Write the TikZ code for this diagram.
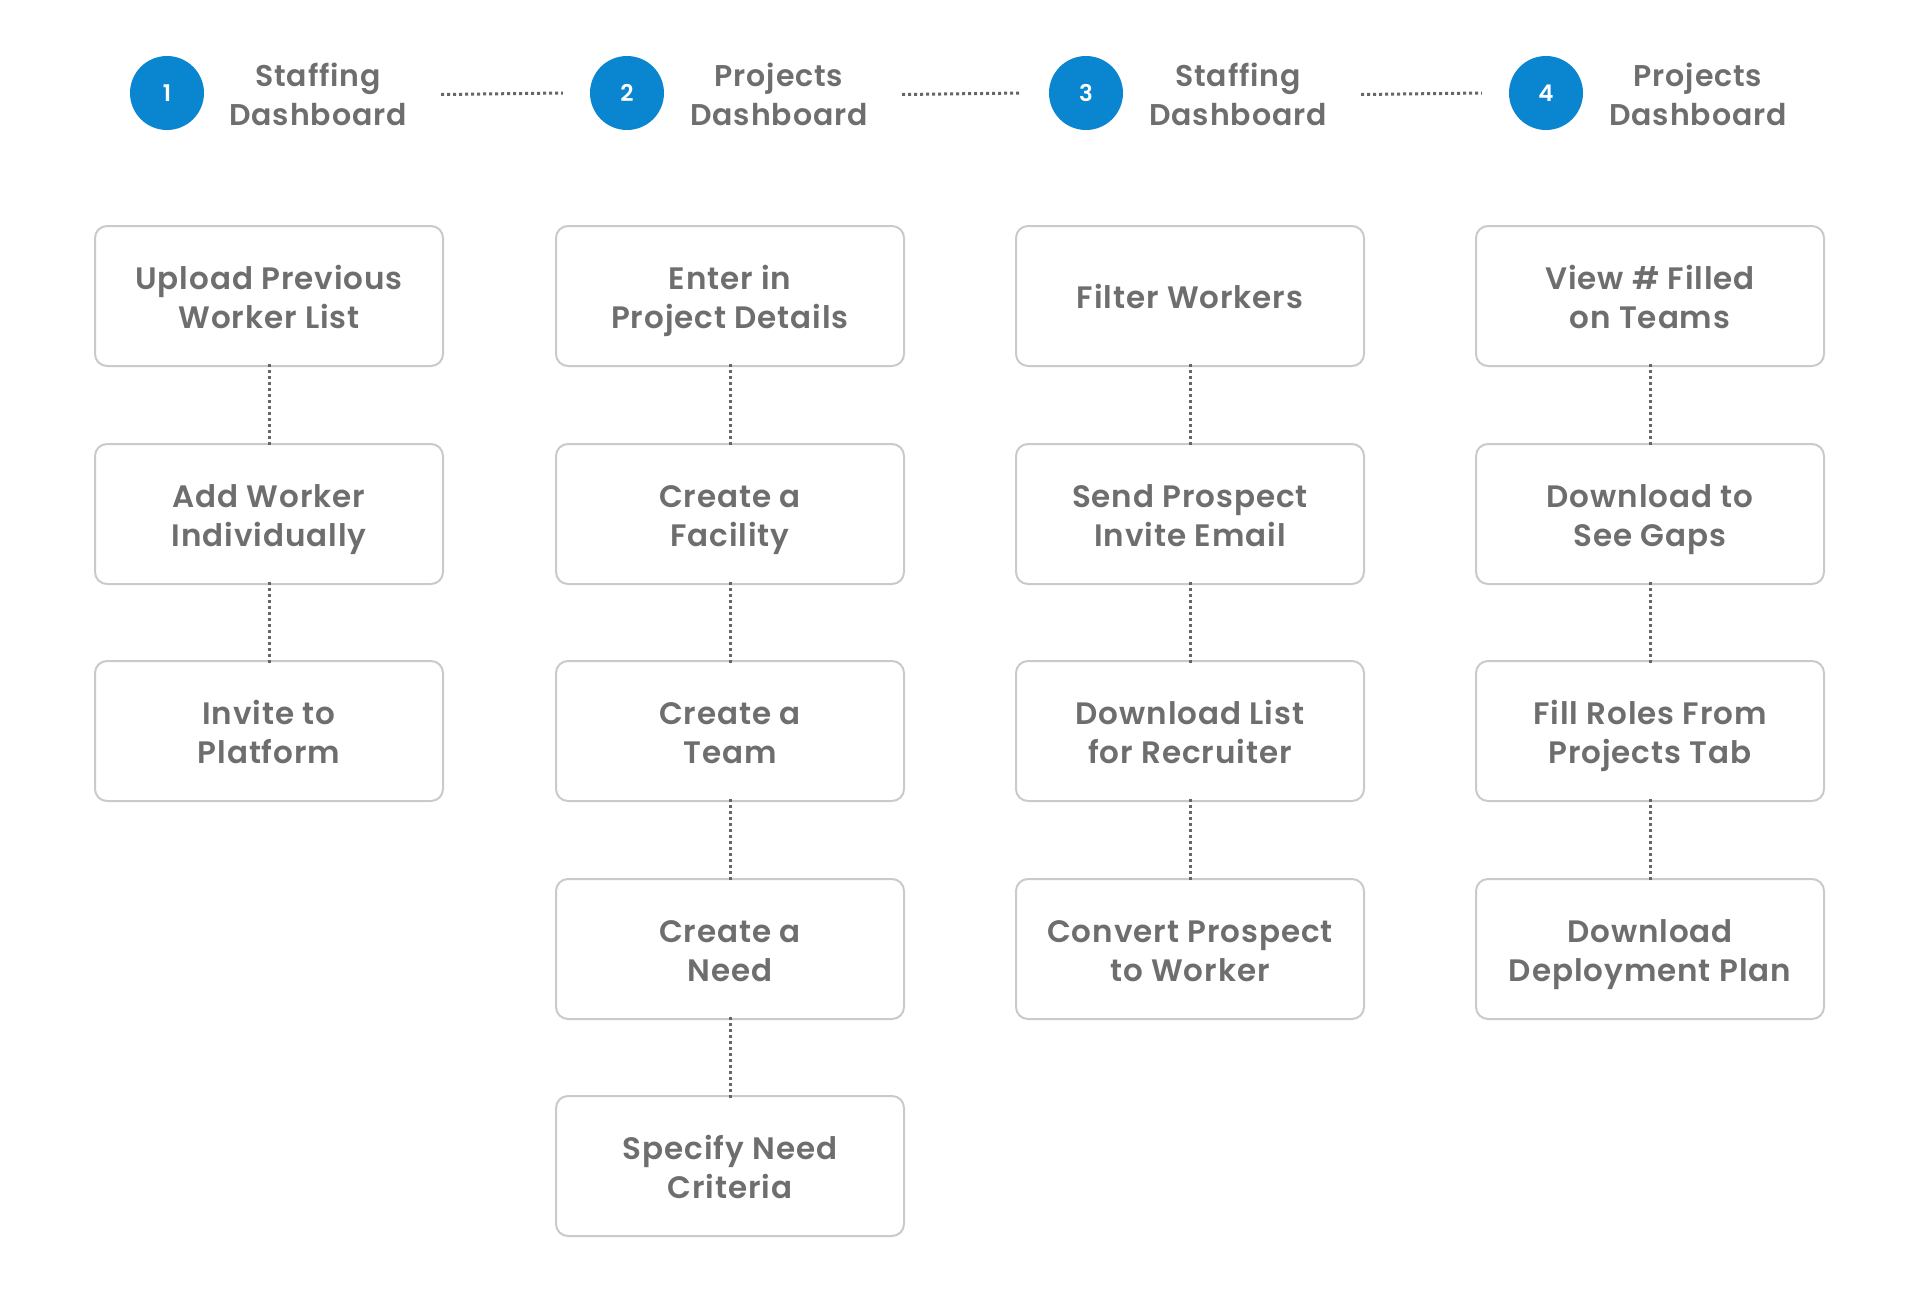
\documentclass[tikz,border=0pt]{standalone}
\usepackage{fontspec}
\usetikzlibrary{calc}
\setmainfont{Poppins}[UprightFont={* SemiBold},LetterSpace=3]
\definecolor{txt}{HTML}{6E6E6E}
\definecolor{bord}{HTML}{CACACA}
\definecolor{blu}{HTML}{0A85D0}
\definecolor{dots}{HTML}{666666}
\newcommand\lnstrut{\rule[-8.5pt]{0pt}{39pt}}
\newcommand\tl[2]{\lnstrut #1\\\lnstrut #2}
\begin{document}
\begin{tikzpicture}[x=1pt,y=-1pt,
  stepbox/.style={draw=bord,line width=2pt,rounded corners=12pt,minimum width=348pt,minimum height=140pt,align=center,text=txt,font=\fontsize{31}{39}\selectfont,inner sep=0pt},
  lbl/.style={align=center,text=txt,font=\fontsize{31}{39}\selectfont,inner sep=0pt,yshift=-1.5pt},
  numc/.style={circle,fill=blu,minimum size=74pt,inner sep=0pt,text=white,font=\fontsize{23}{26}\selectfont},
  head/.style={text width=200pt,align=center,text=txt,font=\fontsize{30}{39}\selectfont,inner sep=0pt,yshift=-1.5pt},
  vdot/.style={draw=dots,line width=3pt,dash pattern=on 3pt off 3pt},
  hdot/.style={draw=dots,line width=3pt,dash pattern=on 3pt off 3pt}]
\useasboundingbox (0,0) rectangle (1920,1299);
% header
\node[numc] (c1) at (167,93) {1};
\node[numc] (c2) at (627,93) {2};
\node[numc] (c3) at (1086,93) {3};
\node[numc] (c4) at (1546,93) {4};
\node[head] (t1) at (318,93) {\tl{Staffing}{Dashboard}};
\node[head] (t2) at (779,93) {\tl{Projects}{Dashboard}};
\node[head] (t3) at (1238,93) {\tl{Staffing}{Dashboard}};
\node[head] (t4) at (1698,93) {\tl{Projects}{Dashboard}};
\draw[hdot] ($(t1.east)+(23pt,0)$) -- ($(c2.west)+(-27pt,0)$);
\draw[hdot] ($(t2.east)+(23pt,0)$) -- ($(c3.west)+(-27pt,0)$);
\draw[hdot] ($(t3.east)+(23pt,0)$) -- ($(c4.west)+(-27pt,0)$);
% column 1
\node[stepbox] (a1) at (269,296) {};
\node[stepbox] (a2) at (269,514) {};
\node[stepbox] (a3) at (269,731) {};
% column 2
\node[stepbox] (b1) at (730,296) {};
\node[stepbox] (b2) at (730,514) {};
\node[stepbox] (b3) at (730,731) {};
\node[stepbox] (b4) at (730,949) {};
\node[stepbox] (b5) at (730,1166) {};
% column 3
\node[stepbox] (d1) at (1190,296) {};
\node[stepbox] (d2) at (1190,514) {};
\node[stepbox] (d3) at (1190,731) {};
\node[stepbox] (d4) at (1190,949) {};
% column 4
\node[stepbox] (e1) at (1650,296) {};
\node[stepbox] (e2) at (1650,514) {};
\node[stepbox] (e3) at (1650,731) {};
\node[stepbox] (e4) at (1650,949) {};
% labels
\node[lbl] (la1) at (a1) {\tl{Upload Previous}{Worker List}};
\node[lbl] (la2) at (a2) {\tl{Add Worker}{Individually}};
\node[lbl] (la3) at (a3) {\tl{Invite to}{Platform}};
\node[lbl] (lb1) at (b1) {\tl{Enter in}{Project Details}};
\node[lbl] (lb2) at (b2) {\tl{Create a}{Facility}};
\node[lbl] (lb3) at (b3) {\tl{Create a}{Team}};
\node[lbl] (lb4) at (b4) {\tl{Create a}{Need}};
\node[lbl] (lb5) at (b5) {\tl{Specify Need}{Criteria}};
\node[lbl] (ld1) at (d1) {\lnstrut Filter Workers};
\node[lbl] (ld2) at (d2) {\tl{Send Prospect}{Invite Email}};
\node[lbl] (ld3) at (d3) {\tl{Download List}{for Recruiter}};
\node[lbl] (ld4) at (d4) {\tl{Convert Prospect}{to Worker}};
\node[lbl] (le1) at (e1) {\tl{View \# Filled}{on Teams}};
\node[lbl] (le2) at (e2) {\tl{Download to}{See Gaps}};
\node[lbl] (le3) at (e3) {\tl{Fill Roles From}{Projects Tab}};
\node[lbl] (le4) at (e4) {\tl{Download}{Deployment Plan}};
% connectors
\foreach \p/\q in {a1/a2,a2/a3,b1/b2,b2/b3,b3/b4,b4/b5,d1/d2,d2/d3,d3/d4,e1/e2,e2/e3,e3/e4}
  \draw[vdot] ([yshift=3pt]\p.south) -- ([yshift=-3pt]\q.north);
\end{tikzpicture}
\end{document}
